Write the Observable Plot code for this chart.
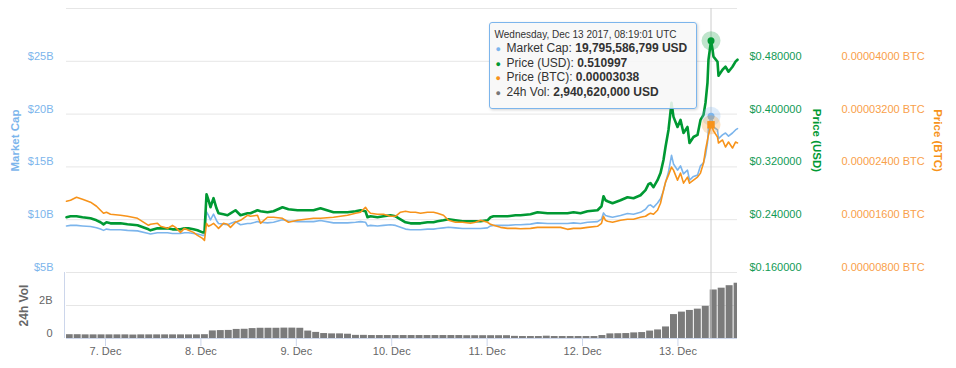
<!DOCTYPE html>
<html><head><meta charset="utf-8">
<script src="https://cdn.jsdelivr.net/npm/d3@7"></script>
<script src="https://cdn.jsdelivr.net/npm/@observablehq/plot@0.6"></script>
<style>
body{margin:0;background:#fff;font-family:"Liberation Sans",Arial,sans-serif;}
#chart{position:relative;width:956px;height:368px;overflow:hidden;}
#chart svg{position:absolute;left:0;top:0;}
#tip{position:absolute;box-sizing:border-box;background:rgba(247,247,247,0.88);border:1px solid #7cb5ec;border-radius:3px;
 padding:5px 9px 8px 5px;color:#333;white-space:nowrap;box-shadow:1px 1px 3px rgba(0,0,0,0.18);font-family:"Liberation Sans",Arial,sans-serif;}
#tip .hd{font-size:10px;line-height:14px;}
#tip .it{font-size:12px;line-height:13.6px;}
#tip .b{font-size:9px;display:inline-block;width:11px;text-align:left;padding-left:1px;}
</style></head><body><div id="chart"></div>
<script>
// hours since 2017-12-06 00:00 UTC
const hours = [14.19,15.20,16.71,18.21,20.23,21.74,22.74,23.50,24.25,25.26,27.77,29.53,32.05,34.82,35.32,37.08,37.84,39.60,40.85,41.61,42.87,43.87,44.88,46.14,47.14,48.40,48.90,49.41,49.91,50.41,51.17,51.92,52.43,53.68,54.69,55.44,56.70,57.96,59.72,60.47,62.24,62.99,64.75,66.26,68.52,70.03,72.30,74.31,76.32,78.08,81.35,83.11,84.88,86.89,88.15,89.40,89.91,90.66,92.42,93.93,95.69,96.95,98.21,99.47,100.72,101.98,103.24,105.00,106.51,107.51,109.02,110.28,112.04,113.80,115.82,117.07,118.33,120.09,120.85,121.60,123.36,125.12,127.14,128.39,130.91,132.67,135.19,137.20,138.46,140.22,141.73,143.49,145.25,147.76,148.77,149.27,149.78,150.28,151.54,153.55,155.31,156.82,158.58,159.84,160.59,161.09,161.85,162.86,163.61,164.36,164.87,165.62,166.38,166.88,167.89,168.64,169.40,170.40,170.91,171.91,172.92,173.67,174.43,174.93,175.43,175.68,176.3169445,176.69,176.94,177.95,178.20,179.21,179.96,180.72,181.72,182.48,182.98];

const priceUsd = [0.2437,0.2452,0.2452,0.2437,0.2421,0.2391,0.2361,0.2330,0.2361,0.2345,0.2345,0.2330,0.2315,0.2254,0.2239,0.2269,0.2269,0.2269,0.2254,0.2254,0.2254,0.2269,0.2269,0.2254,0.2239,0.2208,0.2208,0.2786,0.2695,0.2589,0.2726,0.2573,0.2497,0.2482,0.2467,0.2497,0.2543,0.2467,0.2497,0.2497,0.2543,0.2528,0.2513,0.2528,0.2589,0.2558,0.2543,0.2543,0.2543,0.2573,0.2513,0.2513,0.2513,0.2528,0.2543,0.2528,0.2437,0.2452,0.2437,0.2452,0.2467,0.2452,0.2406,0.2361,0.2345,0.2345,0.2345,0.2361,0.2361,0.2376,0.2391,0.2406,0.2391,0.2376,0.2376,0.2376,0.2376,0.2391,0.2437,0.2452,0.2452,0.2452,0.2467,0.2467,0.2482,0.2513,0.2497,0.2497,0.2497,0.2497,0.2513,0.2497,0.2528,0.2543,0.2604,0.2756,0.2695,0.2680,0.2649,0.2695,0.2741,0.2726,0.2771,0.2847,0.2938,0.2954,0.2893,0.2999,0.3106,0.3304,0.3501,0.3760,0.4170,0.3958,0.3805,0.3912,0.3714,0.3805,0.3562,0.3653,0.3684,0.3912,0.3988,0.4170,0.4475,0.4824,0.510997,0.4982,0.4870,0.4794,0.4581,0.4672,0.4718,0.4642,0.4718,0.4794,0.4824];

const priceBtc = [0.00001880,0.00001895,0.00001941,0.00001910,0.00001865,0.00001804,0.00001743,0.00001697,0.00001713,0.00001682,0.00001667,0.00001652,0.00001621,0.00001515,0.00001530,0.00001545,0.00001500,0.00001469,0.00001515,0.00001484,0.00001408,0.00001469,0.00001439,0.00001408,0.00001363,0.00001317,0.00001287,0.00001545,0.00001500,0.00001515,0.00001545,0.00001500,0.00001469,0.00001545,0.00001530,0.00001484,0.00001561,0.00001591,0.00001667,0.00001652,0.00001667,0.00001545,0.00001637,0.00001637,0.00001621,0.00001561,0.00001591,0.00001606,0.00001621,0.00001621,0.00001637,0.00001652,0.00001667,0.00001697,0.00001713,0.00001789,0.00001743,0.00001697,0.00001682,0.00001682,0.00001652,0.00001652,0.00001713,0.00001728,0.00001713,0.00001713,0.00001697,0.00001713,0.00001713,0.00001697,0.00001667,0.00001591,0.00001561,0.00001561,0.00001545,0.00001561,0.00001591,0.00001561,0.00001530,0.00001515,0.00001484,0.00001469,0.00001469,0.00001462,0.00001469,0.00001484,0.00001484,0.00001484,0.00001484,0.00001454,0.00001469,0.00001469,0.00001484,0.00001500,0.00001545,0.00001652,0.00001591,0.00001576,0.00001561,0.00001591,0.00001606,0.00001606,0.00001637,0.00001652,0.00001682,0.00001697,0.00001682,0.00001743,0.00001849,0.00002047,0.00002169,0.00002275,0.00002397,0.00002351,0.00002199,0.00002306,0.00002154,0.00002245,0.00002154,0.00002199,0.00002245,0.00002306,0.00002458,0.00002656,0.00002808,0.00002884,0.00003038,0.00002990,0.00002945,0.00002853,0.00002762,0.00002808,0.00002701,0.00002777,0.00002686,0.00002777,0.00002762];

// billions of USD
const marketCapB = [9.41,9.46,9.46,9.41,9.35,9.23,9.11,8.99,9.11,9.05,9.05,8.99,8.94,8.70,8.64,8.76,8.76,8.76,8.70,8.70,8.70,8.76,8.76,8.70,8.64,8.52,8.52,10.75,10.40,9.99,10.52,9.93,9.64,9.58,9.52,9.64,9.82,9.52,9.64,9.64,9.82,9.76,9.70,9.76,9.99,9.87,9.82,9.82,9.82,9.93,9.70,9.70,9.70,9.76,9.82,9.76,9.41,9.46,9.41,9.46,9.52,9.46,9.29,9.11,9.05,9.05,9.05,9.11,9.11,9.17,9.23,9.29,9.23,9.17,9.17,9.17,9.17,9.23,9.41,9.46,9.46,9.46,9.52,9.52,9.58,9.70,9.64,9.64,9.64,9.64,9.70,9.64,9.76,9.82,10.05,10.64,10.40,10.34,10.23,10.40,10.58,10.52,10.70,10.99,11.34,11.40,11.17,11.58,11.99,12.75,13.51,14.51,16.10,15.28,14.69,15.10,14.34,14.69,13.75,14.10,14.22,15.10,15.39,16.10,17.27,18.62,19.795586799,19.23,18.80,18.50,17.68,18.03,18.21,17.92,18.21,18.50,18.62];

// 24h volume, billions USD, 2-hour bins starting 2017-12-06 14:00 UTC
const volFirstBinHour = 14, volBinHours = 2;
const volumeB = [0.23,0.23,0.22,0.22,0.22,0.22,0.22,0.22,0.21,0.22,0.22,0.22,0.22,0.22,0.22,0.22,0.22,0.23,
 0.46,0.48,0.49, 0.55,0.56, 0.60,0.62,0.62,0.62,0.63,0.63,0.62, 0.45,0.37, 0.30,0.28,0.28,0.26,
 0.19,0.19,0.18,0.18,0.18,0.18,0.18,0.18,0.18,0.18,0.18,0.18,0.18,0.18,0.17,0.17,0.17,0.17,0.17,0.17,
 0.13,0.12,0.12,0.12,0.14,0.12,0.12,0.12,0.12,0.12,0.12,0.18,
 0.28,0.29,0.30,0.34, 0.36,0.45, 0.52,0.70, 1.45,1.60,1.70,1.78,1.95,2.94062,3.05,3.20,3.35];

const mcapTicks = [5e9,10e9,15e9,20e9,25e9,30e9];
const usdTicks = [0.16,0.24,0.32,0.40,0.48];
const btcTicks = [0.000008,0.000016,0.000024,0.000032,0.00004];
const volTicks = [0,2e9];

const T0 = Date.UTC(2017, 11, 6);
const toDate = h => new Date(Math.round(T0 + h * 3600e3));
const rows = hours.map((h, i) => ({date: toDate(h), usd: priceUsd[i], btc: priceBtc[i], mcap: marketCapB[i] * 1e9}));
const volRows = volumeB.map((v, i) => ({x1: toDate(volFirstBinHour + i * volBinHours), x2: toDate(volFirstBinHour + (i + 1) * volBinHours), v: v * 1e9}));
const xDomain = [rows[0].date, rows[rows.length - 1].date];
const peak = rows[d3.maxIndex(rows, d => d.usd)];
const peakVol = volRows.find(d => d.x1 <= peak.date && peak.date < d.x2);
const dayTicks = d3.utcDay.range(toDate(24), xDomain[1]);

const W = 956, H = 368, ML = 66, MR = 219;
const style = {fontFamily: '"Liberation Sans", Arial, sans-serif', fontSize: "11px", background: "transparent", overflow: "visible"};
const GREEN = "#009933", ORANGE = "#f7931a", BLUE = "#7cb5ec", GRID = "#e6e6e6";
const common = {width: W, height: H, marginLeft: ML, marginRight: MR, style};
const chart = document.getElementById("chart");

// volume panel
const volPlot = Plot.plot({...common, marginTop: 272, marginBottom: 30,
  x: {type: "utc", domain: xDomain},
  y: {domain: [0, 4e9]},
  marks: [
    Plot.ruleY([2e9, 4e9], {stroke: GRID}),
    Plot.rect(volRows, {x1: "x1", x2: "x2", y1: d => 0, y2: "v", fill: "#7b7b7b", insetLeft: 0.5, insetRight: 0.5, clip: true}),
    Plot.ruleY([0], {stroke: "#ccd6eb"}),
    Plot.ruleX([xDomain[0]], {stroke: "#ccd6eb", dx: -2}),
    Plot.axisY(volTicks, {anchor: "left", tickSize: 0, tickPadding: 14, dy: -5, tickFormat: d => d === 0 ? "0" : `${d / 1e9}B`, color: "#666", label: null}),
    Plot.axisX(dayTicks, {anchor: "bottom", tickSize: 8, tickPadding: 1, tickFormat: d => `${d.getUTCDate()}. Dec`, color: "#666", stroke: "#ccd6eb", label: null}),
    Plot.text(["24h Vol"], {frameAnchor: "left", dx: -42, rotate: -90, textAnchor: "middle", fill: "#666", fontWeight: "bold", fontSize: 12})
  ]});
chart.appendChild(volPlot);

// market cap panel
const mainOpts = {...common, marginTop: 8, marginBottom: 96};
const mcapPlot = Plot.plot({...mainOpts,
  x: {type: "utc", domain: xDomain, axis: null},
  y: {domain: [5e9, 30e9]},
  marks: [
    Plot.ruleY(mcapTicks, {stroke: GRID}),
    Plot.axisY(mcapTicks.slice(0, -1), {anchor: "left", tickSize: 0, tickPadding: 13, dy: -5, tickFormat: d => `$${d / 1e9}B`, color: BLUE, label: null}),
    Plot.text(["Market Cap"], {frameAnchor: "left", dx: -51.5, rotate: -90, textAnchor: "middle", fill: BLUE, fontWeight: "bold", fontSize: 11.5}),
    Plot.line(rows, {x: "date", y: "mcap", stroke: BLUE, strokeWidth: 1.6}),
  ]});
chart.appendChild(mcapPlot);

// crosshair
const crossPlot = Plot.plot({...common, marginTop: 8, marginBottom: 30,
  x: {type: "utc", domain: xDomain, axis: null},
  marks: [Plot.ruleX([peak.date], {stroke: "#cccccc"})]});
chart.appendChild(crossPlot);

// price USD
const usdPlot = Plot.plot({...mainOpts,
  x: {type: "utc", domain: xDomain, axis: null},
  y: {domain: [0.16, 0.56]},
  marks: [
    Plot.axisY(usdTicks, {anchor: "right", tickSize: 0, tickPadding: 12, dy: -5, tickFormat: d => `$${d.toFixed(6)}`, color: "#119a55", label: null}),
    Plot.text(["Price (USD)"], {frameAnchor: "right", dx: 79.5, rotate: 90, textAnchor: "middle", fill: GREEN, fontWeight: "bold", fontSize: 11.5}),
    Plot.line(rows, {x: "date", y: "usd", stroke: GREEN, strokeWidth: 2.6}),
  ]});
chart.appendChild(usdPlot);

// price BTC
const btcPlot = Plot.plot({...mainOpts,
  x: {type: "utc", domain: xDomain, axis: null},
  y: {domain: [0.000008, 0.000048]},
  marks: [
    Plot.axisY(btcTicks, {anchor: "right", tickSize: 0, tickPadding: 104, dy: -5, tickFormat: d => `${d.toFixed(8)} BTC`, color: "#f9a04a", label: null}),
    Plot.text(["Price (BTC)"], {frameAnchor: "right", dx: 200.5, rotate: 90, textAnchor: "middle", fill: ORANGE, fontWeight: "bold", fontSize: 11.5}),
    Plot.line(rows, {x: "date", y: "btc", stroke: ORANGE, strokeWidth: 1.6}),
  ]});
chart.appendChild(btcPlot);

// hover markers
const markers = (y, domain, color, symbol) => Plot.plot({...mainOpts,
  x: {type: "utc", domain: xDomain, axis: null},
  y: {domain, axis: null},
  marks: [
    Plot.dot([peak], {x: "date", y, r: 9.5, fill: color, fillOpacity: 0.25, symbol: "circle"}),
    Plot.dot([peak], {x: "date", y, r: symbol === "square" ? 4.2 : 3.5, fill: color, symbol})
  ]});
chart.appendChild(markers("mcap", [5e9, 30e9], BLUE, "circle"));
chart.appendChild(markers("btc", [0.000008, 0.000048], ORANGE, "square"));
chart.appendChild(markers("usd", [0.16, 0.56], GREEN, "circle"));

// tooltip
const fmtDate = d3.utcFormat("%A, %b %d %Y, %H:%M:%S UTC");
const tip = document.createElement("div");
tip.id = "tip";
tip.innerHTML = `<div class="hd">${fmtDate(peak.date)}</div>
<div class="it"><span class="b" style="color:${BLUE}">●</span>Market Cap: <b>${d3.format(",")(Math.round(peak.mcap))} USD</b></div>
<div class="it"><span class="b" style="color:${GREEN}">●</span>Price (USD): <b>${peak.usd.toFixed(6)}</b></div>
<div class="it"><span class="b" style="color:${ORANGE}">●</span>Price (BTC): <b>${peak.btc.toFixed(8)}</b></div>
<div class="it"><span class="b" style="color:#777">●</span>24h Vol: <b>${d3.format(",")(Math.round(peakVol.v))} USD</b></div>`;
chart.appendChild(tip);
const px = usdPlot.scale("x").apply(peak.date);
tip.style.top = "22px";
tip.style.left = (px - 13 - tip.offsetWidth) + "px";
</script>
</body></html>
